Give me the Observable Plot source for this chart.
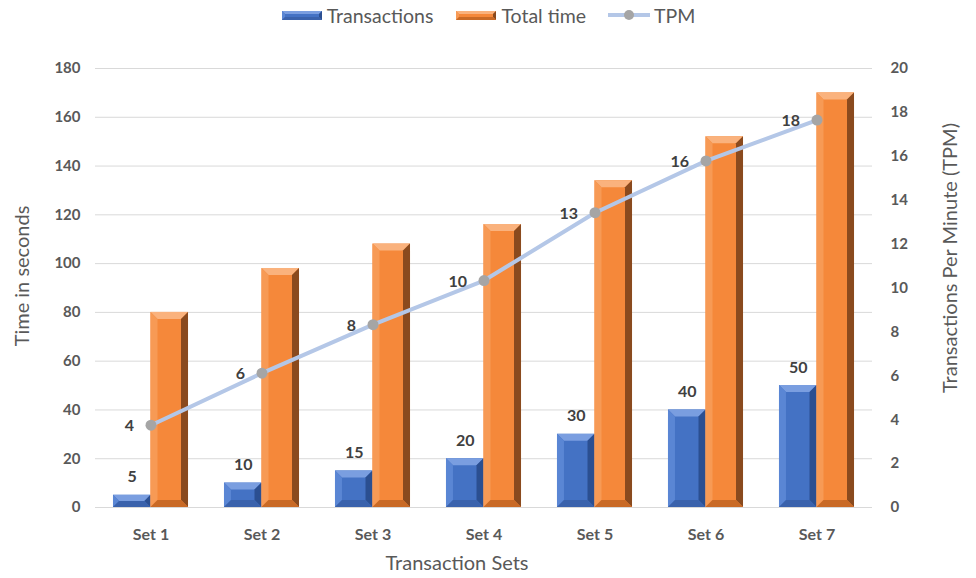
<!DOCTYPE html>
<html>
<head>
<meta charset="utf-8">
<script src="https://cdn.jsdelivr.net/npm/d3@7"></script>
<script src="https://cdn.jsdelivr.net/npm/@observablehq/plot@0.6"></script>
<style>
  body { margin: 0; background: #fff; font-family: Lato, "Open Sans", sans-serif; }
  #legend { height: 30px; display: flex; justify-content: center; align-items: center; gap: 22px; color: #595959; font-size: 19.5px; }
  #legend .item { display: flex; align-items: center; gap: 4px; }
  #chart svg { display: block; }
</style>
</head>
<body>
<div id="legend"></div>
<div id="chart"></div>
<script>
const sets = ["Set 1", "Set 2", "Set 3", "Set 4", "Set 5", "Set 6", "Set 7"];
const transactions = [5, 10, 15, 20, 30, 40, 50];
const totalTime = [80, 98, 108, 116, 134, 152, 170];
const tpm = [3.75, 6.12, 8.33, 10.34, 13.43, 15.79, 17.65];
const tpmLabels = ["4", "6", "8", "10", "13", "16", "18"];
const leftTicks = [0, 20, 40, 60, 80, 100, 120, 140, 160, 180];
const rightTicks = [0, 2, 4, 6, 8, 10, 12, 14, 16, 18, 20];
const seriesNames = ["Transactions", "Total time", "TPM"];

const W = 976, H = 548, ML = 95, MR = 104, MT = 38, MB = 71;
const ratio = 180 / 20; // left units per right unit
const band = (W - ML - MR) / sets.length;
const barW = band * 0.338;
const outer = (band - 2 * barW) / 2;

const rows = sets.map((s, i) => ({set: s, tr: transactions[i], tt: totalTime[i], tpm: tpm[i] * ratio, tpmLabel: tpmLabels[i]}));

const palette = {
  blue: {base: "#4472C4", top: "#7A9EE0", left: "#5A86D4", right: "#2B4F91", bottom: "#3A62AC"},
  orange: {base: "#F5883A", top: "#FAB27D", left: "#F79A55", right: "#8A4A1E", bottom: "#C96A26"}
};

function bevel(p) {
  return function(index, scales, values, dimensions, context, next) {
    const g = next(index, scales, values, dimensions, context);
    d3.select(g).selectAll("rect").each(function() {
      const r = d3.select(this);
      const x = +r.attr("x"), y = +r.attr("y"), w = +r.attr("width"), h = +r.attr("height");
      const b = Math.min(7, h / 2, w / 4);
      const parent = d3.select(this.parentNode);
      const poly = (pts, fill) => parent.append("polygon").attr("points", pts.map(q => q.join(",")).join(" ")).attr("fill", fill);
      poly([[x, y], [x + w, y], [x + w - b, y + b], [x + b, y + b]], p.top);
      poly([[x, y], [x + b, y + b], [x + b, y + h - b], [x, y + h]], p.left);
      poly([[x + w, y], [x + w, y + h], [x + w - b, y + h - b], [x + w - b, y + b]], p.right);
      poly([[x, y + h], [x + b, y + h - b], [x + w - b, y + h - b], [x + w, y + h]], p.bottom);
    });
    return g;
  };
}

const plot = Plot.plot({
  width: W, height: H,
  marginLeft: ML, marginRight: MR, marginTop: MT, marginBottom: MB,
  style: {fontFamily: "Lato, 'Open Sans', sans-serif", color: "#595959", background: "#fff"},
  x: {domain: sets, padding: 0, axis: null},
  y: {domain: [0, 180], axis: null},
  marks: [
    Plot.gridY(leftTicks, {stroke: "#D9D9D9", strokeOpacity: 1, strokeWidth: 1}),
    Plot.axisY({ticks: leftTicks, label: null, tickSize: 0, tickPadding: 15, fontSize: 15, fontWeight: "bold", fill: "#595959"}),
    Plot.axisY({anchor: "right", label: null, ticks: rightTicks.map(v => v * ratio), tickFormat: d => Math.round(d / ratio), tickSize: 0, tickPadding: 18, fontSize: 15, fontWeight: "bold", fill: "#595959"}),
    Plot.axisX({ticks: sets, label: null, tickSize: 0, tickPadding: 21, fontSize: 16, fontWeight: "bold", fill: "#595959"}),
    Plot.barY(rows, {x: "set", y: "tr", fill: palette.blue.base, insetLeft: outer, insetRight: band - outer - barW, render: bevel(palette.blue)}),
    Plot.barY(rows, {x: "set", y: "tt", fill: palette.orange.base, insetLeft: outer + barW, insetRight: outer, render: bevel(palette.orange)}),
    Plot.ruleY([0], {stroke: "#D9D9D9"}),
    Plot.line(rows, {x: "set", y: "tpm", stroke: "#B4C7E7", strokeWidth: 4}),
    Plot.dot(rows, {x: "set", y: "tpm", fill: "#A5A5A5", r: 5.5}),
    Plot.text(rows, {x: "set", y: "tr", text: d => String(d.tr), dx: -(band / 2 - outer - barW / 2), dy: -18, fontSize: 16, fontWeight: "bold", fill: "#404040"}),
    Plot.text(rows, {x: "set", y: "tpm", text: "tpmLabel", textAnchor: "end", dx: -17, dy: 1, fontSize: 16, fontWeight: "bold", fill: "#404040"}),
    Plot.text(["Time in seconds"], {frameAnchor: "left", textAnchor: "middle", dx: -73, dy: -12, rotate: -90, fontSize: 20, fill: "#595959"}),
    Plot.text(["Transactions Per Minute (TPM)"], {frameAnchor: "right", textAnchor: "middle", dx: 78, dy: -30, rotate: -90, fontSize: 20, fill: "#595959"}),
    Plot.text(["Transaction Sets"], {frameAnchor: "bottom", textAnchor: "middle", dx: -27, dy: 62, fontSize: 20, fill: "#595959"})
  ]
});
document.getElementById("chart").appendChild(plot);

// legend
const legend = d3.select("#legend");
const sw = [
  {name: seriesNames[0], kind: "bar", p: palette.blue},
  {name: seriesNames[1], kind: "bar", p: palette.orange},
  {name: seriesNames[2], kind: "line"}
];
sw.forEach(s => {
  const it = legend.append("div").attr("class", "item");
  const svg = it.append("svg").attr("width", 42).attr("height", 12);
  if (s.kind === "bar") {
    const x = 1, y = 2, w = 40, h = 9, b = 3;
    svg.append("rect").attr("x", x).attr("y", y).attr("width", w).attr("height", h).attr("fill", s.p.base);
    const poly = (pts, fill) => svg.append("polygon").attr("points", pts.map(q => q.join(",")).join(" ")).attr("fill", fill);
    poly([[x, y], [x + w, y], [x + w - b, y + b], [x + b, y + b]], s.p.top);
    poly([[x, y], [x + b, y + b], [x + b, y + h - b], [x, y + h]], s.p.left);
    poly([[x + w, y], [x + w, y + h], [x + w - b, y + h - b], [x + w - b, y + b]], s.p.right);
    poly([[x, y + h], [x + b, y + h - b], [x + w - b, y + h - b], [x + w, y + h]], s.p.bottom);
  } else {
    svg.append("line").attr("x1", 0).attr("x2", 42).attr("y1", 6).attr("y2", 6).attr("stroke", "#B4C7E7").attr("stroke-width", 4);
    svg.append("circle").attr("cx", 21).attr("cy", 6).attr("r", 5).attr("fill", "#A5A5A5");
  }
  it.append("span").text(s.name);
});
</script>
</body>
</html>
